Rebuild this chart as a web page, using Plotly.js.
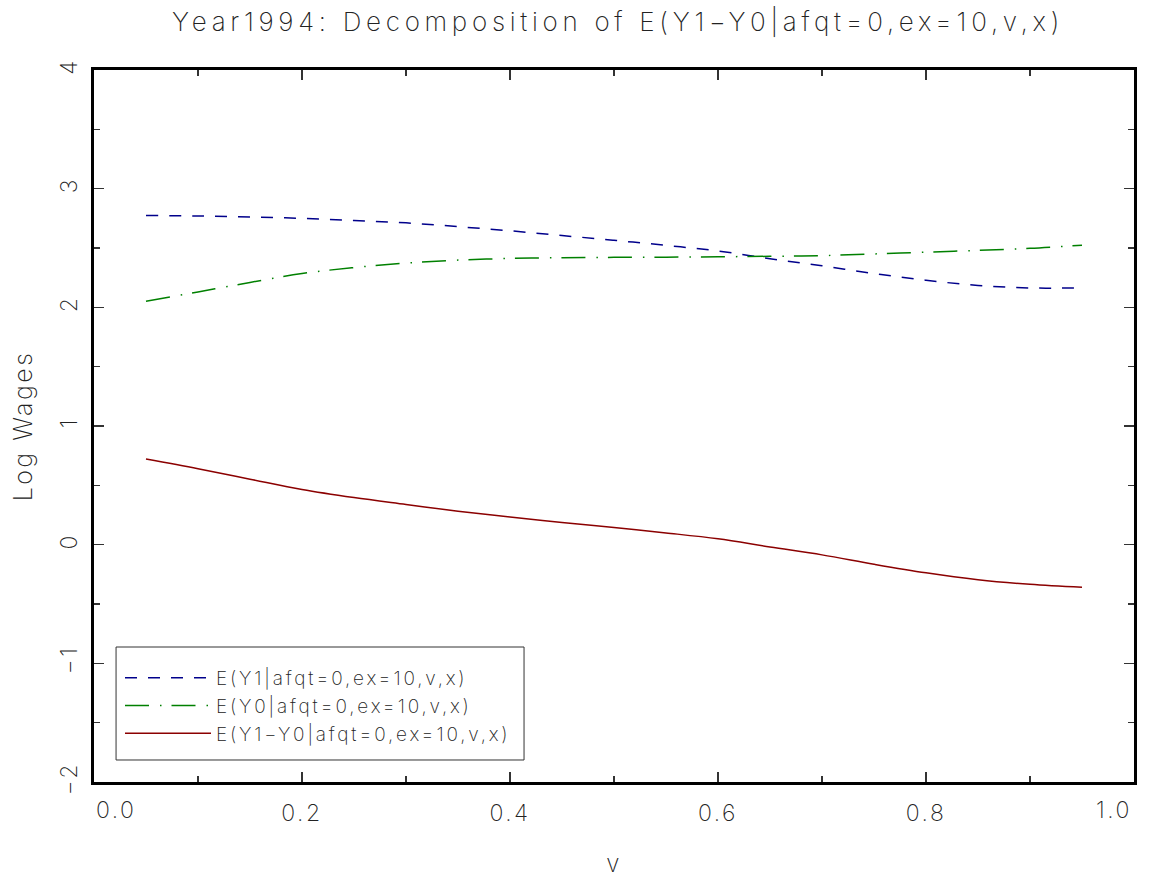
<!DOCTYPE html>
<html>
<head>
<meta charset="utf-8">
<script src="https://cdn.plot.ly/plotly-3.0.1.min.js"></script>
<style>
  html, body { margin: 0; padding: 0; background: #fff; }
  #chart { width: 1171px; height: 878px; }
  .gtitle { letter-spacing: 4.7px; }
  .ytick text, .annotation-text, .xtick text { letter-spacing: 2.5px; }
  .xtitle, .ytitle { letter-spacing: 2.5px; }
  .legendtext { letter-spacing: 2.8px; }
</style>
</head>
<body>
<div id="chart"></div>
<script>
// Grid of v values
const v = [0.05, 0.10, 0.15, 0.20, 0.25, 0.30, 0.35, 0.40, 0.45, 0.50,
           0.55, 0.60, 0.65, 0.70, 0.75, 0.80, 0.85, 0.90, 0.95];

// E(Y1|afqt=0,ex=10,v,x)
const y1 = [2.774, 2.770, 2.762, 2.750, 2.732, 2.712, 2.680, 2.645, 2.605, 2.565,
            2.522, 2.475, 2.410, 2.350, 2.285, 2.228, 2.185, 2.163, 2.165];

// E(Y0|afqt=0,ex=10,v,x)
const y0 = [2.052, 2.130, 2.210, 2.285, 2.335, 2.373, 2.398, 2.412, 2.418, 2.421,
            2.423, 2.426, 2.430, 2.436, 2.450, 2.465, 2.480, 2.497, 2.524];

// E(Y1-Y0|afqt=0,ex=10,v,x)
const diff = [0.722, 0.640, 0.552, 0.465, 0.397, 0.339, 0.282, 0.233, 0.187, 0.144,
              0.099, 0.049, -0.020, -0.086, -0.165, -0.237, -0.295, -0.334, -0.359];

const seriesNames = ["E(Y1|afqt=0,ex=10,v,x)", "E(Y0|afqt=0,ex=10,v,x)", "E(Y1\u2212Y0|afqt=0,ex=10,v,x)"];

const xTickVals = [0.0, 0.2, 0.4, 0.6, 0.8, 1.0];
const xTickText = ["0.0", "0.2", "0.4", "0.6", "0.8", "1.0"];
const yTickVals = [-2, -1, 0, 1, 2, 3, 4];
const yTickText = ["\u22122", "\u22121", "0", "1", "2", "3", "4"];

const FONT = "'DejaVu Sans ExtraLight', Inter, Roboto, 'DejaVu Sans', sans-serif";
const TXT = "#222";

const lineStyles = [
  { color: "#00008b", width: 1.5, dash: "12px,11px" },
  { color: "#008000", width: 1.5, dash: "24px,11px,1.5px,10px" },
  { color: "#8b0000", width: 1.5 }
];

const traces = [y1, y0, diff].map((ys, i) => ({
  x: v, y: ys, name: seriesNames[i], mode: "lines",
  line: Object.assign({ shape: "spline", smoothing: 1 }, lineStyles[i])
}));

// Inner x tick labels come from the axis; the two end labels sit flush inside the frame
const endLabels = [
  { x: xTickVals[0], text: xTickText[0], xanchor: "left" },
  { x: xTickVals[xTickVals.length - 1], text: xTickText[xTickText.length - 1], xanchor: "right" }
].map(d => ({
  x: d.x, y: 0, xref: "x", yref: "paper", yanchor: "top", xanchor: d.xanchor,
  yshift: -12, showarrow: false, text: d.text,
  font: { family: FONT, size: 23, color: TXT, weight: 200 }
}));

const axisCommon = {
  showline: true, linewidth: 3, linecolor: "#000", mirror: "ticks",
  ticks: "inside", ticklen: 10, tickwidth: 1.5, tickcolor: "#333",
  showgrid: false, zeroline: false, fixedrange: true,
  tickfont: { family: FONT, size: 23, color: TXT, weight: 200 }
};

const layout = {
  width: 1171, height: 878,
  margin: { l: 94, r: 37, t: 70, b: 96 },
  paper_bgcolor: "#fff", plot_bgcolor: "#fff",
  title: {
    text: "Year1994: Decomposition of E(Y1\u2212Y0|afqt=0,ex=10,v,x)",
    x: 0.1469, xanchor: "left", y: 0.975, yanchor: "middle",
    font: { family: FONT, size: 26, color: TXT, weight: 200 }
  },
  xaxis: Object.assign({}, axisCommon, {
    range: [0, 1], tickmode: "array",
    tickvals: xTickVals.slice(1, -1), ticktext: xTickText.slice(1, -1),
    ticklabelstandoff: 8,
    minor: { dtick: 0.1, ticks: "inside", ticklen: 6, tickwidth: 1.5, tickcolor: "#333", showgrid: false },
    title: { text: "v", standoff: 40, font: { family: FONT, size: 24, color: TXT, weight: 200 } }
  }),
  yaxis: Object.assign({}, axisCommon, {
    range: [-2, 4], tickmode: "array",
    tickvals: yTickVals, ticktext: yTickText, tickangle: -90,
    ticklabelstandoff: 5,
    minor: { dtick: 0.5, ticks: "inside", ticklen: 6, tickwidth: 1.5, tickcolor: "#333", showgrid: false },
    title: { text: "Log Wages", standoff: 16, font: { family: FONT, size: 25, color: TXT, weight: 200 } }
  }),
  annotations: endLabels,
  // Frame around the legend entries
  shapes: [{
    type: "rect", xref: "paper", yref: "paper", layer: "above",
    x0: 0.0212, x1: 0.4135, y0: 0.0309, y1: 0.1896,
    line: { color: "#333", width: 1 }, fillcolor: "#fff"
  }],
  showlegend: true,
  legend: {
    x: 0.025, y: 0.1728, xanchor: "left", yanchor: "top",
    bgcolor: "rgba(0,0,0,0)", borderwidth: 0,
    itemwidth: 86, tracegroupgap: 0,
    font: { family: FONT, size: 19, color: TXT, weight: 200 }
  }
};

Plotly.newPlot("chart", traces, layout, { staticPlot: true, displayModeBar: false });
</script>
</body>
</html>
